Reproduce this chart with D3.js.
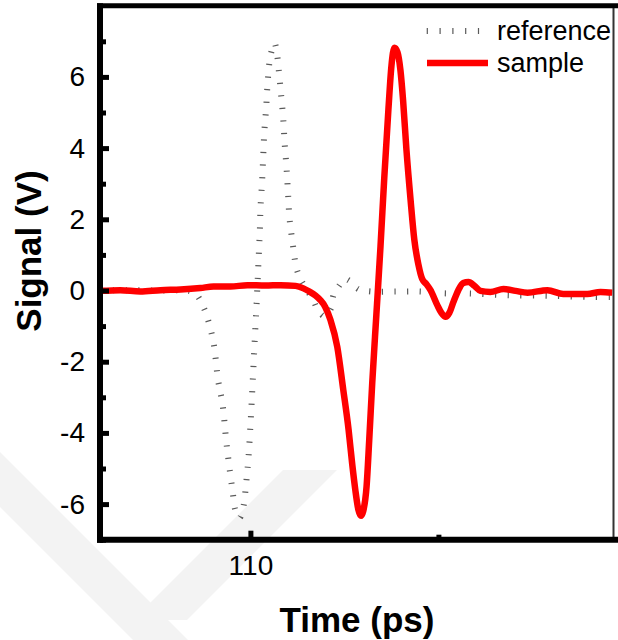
<!DOCTYPE html>
<html>
<head>
<meta charset="utf-8">
<script src="https://cdn.jsdelivr.net/npm/d3@7"></script>
<style>
  html, body { margin: 0; padding: 0; background: #fff; }
  svg { display: block; }
  text { font-family: "Liberation Sans", Arial, sans-serif; }
</style>
</head>
<body>
<svg id="chart" width="618" height="640"></svg>
<script>
// ---------- data ----------
const refTime = [106.01, 106.81, 107.61, 108.27, 108.40, 108.54, 108.74, 108.86, 109.02, 109.14,
  109.26, 109.36, 109.44, 109.53, 109.60, 109.71, 109.81, 109.89, 109.95, 110.01,
  110.06, 110.11, 110.16, 110.19, 110.22, 110.25, 110.27, 110.31, 110.34, 110.37,
  110.42, 110.46, 110.53, 110.64, 110.71, 110.75, 110.81, 110.87, 110.91, 110.96,
  111.00, 111.04, 111.12, 111.22, 111.32, 111.49, 111.68, 111.81, 111.97, 112.15,
  112.21, 112.37, 112.50, 112.61, 112.87, 113.22, 113.88, 114.52, 115.16, 115.80,
  116.81, 117.98, 119.10, 119.63];
const refSignal = [0.00, 0.01, 0.00, 0.00, -0.02, -0.08, -0.44, -0.78, -1.47, -2.51,
  -3.20, -4.26, -4.95, -5.67, -6.17, -6.39, -6.09, -5.38, -4.67, -3.62,
  -2.58, -1.51, -0.47, 0.22, 0.93, 1.64, 2.34, 3.04, 3.75, 4.45,
  5.15, 5.86, 6.57, 6.95, 6.62, 6.24, 5.57, 4.87, 4.15, 3.46,
  2.75, 2.04, 1.36, 0.65, 0.35, 0.04, -0.29, -0.58, -0.72, -0.49,
  -0.13, 0.15, 0.32, 0.29, 0.04, -0.03, -0.03, -0.03, -0.08, -0.08,
  -0.13, -0.15, -0.18, -0.18];

const sampleTime = [106.01, 106.54, 107.07, 107.61, 108.14, 108.67, 109.02, 109.47, 109.92, 110.40,
  110.80, 111.20, 111.41, 111.57, 111.73, 111.86, 111.99, 112.13, 112.31, 112.47,
  112.61, 112.71, 112.79, 112.87, 112.94, 113.00, 113.09, 113.16, 113.24, 113.35,
  113.46, 113.56, 113.67, 113.75, 113.83, 113.91, 113.99, 114.06, 114.15, 114.26,
  114.36, 114.47, 114.57, 114.68, 114.79, 114.97, 115.08, 115.19, 115.29, 115.40,
  115.53, 115.66, 115.80, 115.96, 116.12, 116.38, 116.73, 117.05, 117.37, 117.90,
  118.32, 118.64, 118.96, 119.31, 119.63];
const sampleSignal = [-0.01, 0.01, -0.03, 0.01, 0.03, 0.07, 0.11, 0.11, 0.15, 0.14,
  0.15, 0.13, 0.06, -0.03, -0.14, -0.27, -0.46, -0.83, -1.58, -2.79,
  -3.90, -4.90, -5.60, -6.15, -6.33, -6.20, -5.50, -4.20, -2.60, -0.68,
  1.24, 3.16, 5.08, 6.30, 6.82, 6.70, 6.19, 5.35, 3.95, 2.54,
  1.42, 0.72, 0.32, 0.18, 0.01, -0.41, -0.63, -0.74, -0.63, -0.32,
  0.01, 0.21, 0.24, 0.13, -0.01, -0.04, 0.04, -0.01, -0.06, 0.01,
  -0.10, -0.10, -0.10, -0.04, -0.06];

const xMajorTicks = [110];
const xMinorTicks = [115];
const yMajorTicks = [-6, -4, -2, 0, 2, 4, 6];
const yMinorTicks = [-7, -5, -3, -1, 1, 3, 5, 7];
const seriesNames = ["reference", "sample"];
const xTitle = "Time (ps)";
const yTitle = "Signal (V)";

// ---------- layout ----------
const svg = d3.select("#chart");
const L = 100, R = 612.5, T = 5.7, B = 539.7;
const x = d3.scaleLinear().domain([106, 119.63]).range([L, R]);
const y = d3.scaleLinear().domain([-7, 8]).range([B, T]);

// faint watermark bands
const wm = svg.append("g").attr("fill", "#f3f3f3");
wm.append("path").attr("d", "M283,470 L337,470 L187,620 L133,620 Z");
wm.append("path").attr("d", "M0,452 L0,507 L133,640 L188,640 Z");

// clip
svg.append("clipPath").attr("id", "clip").append("rect")
  .attr("x", L).attr("y", T).attr("width", R - L).attr("height", B - T);

const refLine = d3.line()
  .x(d => x(d[0])).y(d => y(d[1]))
  .curve(d3.curveCatmullRom.alpha(0.5));
const sampleLine = d3.line()
  .x(d => x(d[0])).y(d => y(d[1]))
  .curve(d3.curveMonotoneX);

const refData = refTime.map((t, i) => [t, refSignal[i]]);
const sampleData = sampleTime.map((t, i) => [t, sampleSignal[i]]);

const plot = svg.append("g").attr("clip-path", "url(#clip)");
plot.append("path").datum(refData)
  .attr("d", refLine).attr("fill", "none")
  .attr("stroke", "#5a5a5a").attr("stroke-width", 6)
  .attr("stroke-dasharray", "1.2 11.4");
plot.append("path").datum(sampleData)
  .attr("d", sampleLine).attr("fill", "none")
  .attr("stroke", "#ff0000").attr("stroke-width", 6.5)
  .attr("stroke-linejoin", "round");

// ---------- axes ----------
const fontTick = 28;
const fmt = d => String(d);
const yAxis = svg.append("g").attr("transform", `translate(${L},0)`)
  .call(d3.axisLeft(y).tickValues(yMajorTicks).tickFormat(fmt).tickSizeInner(-9).tickSizeOuter(0).tickPadding(15));
const yMinor = svg.append("g").attr("transform", `translate(${L},0)`)
  .call(d3.axisLeft(y).tickValues(yMinorTicks).tickSizeInner(-6).tickSizeOuter(0).tickFormat(""));
const xAxis = svg.append("g").attr("transform", `translate(0,${B})`)
  .call(d3.axisBottom(x).tickValues(xMajorTicks).tickFormat(fmt).tickSizeInner(-9).tickSizeOuter(0).tickPadding(15));
const xMinor = svg.append("g").attr("transform", `translate(0,${B})`)
  .call(d3.axisBottom(x).tickValues(xMinorTicks).tickSizeInner(-5).tickSizeOuter(0).tickFormat(""));

[yAxis, yMinor, xAxis, xMinor].forEach(g => {
  g.select(".domain").remove();
  g.selectAll(".tick line").attr("stroke", "#000").attr("stroke-width", 5);
  g.selectAll(".tick text").attr("font-size", fontTick).attr("fill", "#000")
    .attr("font-family", '"Liberation Sans", Arial, sans-serif');
});

// frame
const frame = svg.append("g").attr("stroke", "#000").attr("fill", "none");
frame.append("line").attr("x1", 613.5).attr("x2", 613.5).attr("y1", T).attr("y2", B)
  .attr("stroke", "#333").attr("stroke-width", 2);
frame.append("line").attr("x1", L - 3).attr("x2", 618).attr("y1", T).attr("y2", T).attr("stroke-width", 5);
frame.append("line").attr("x1", L - 3).attr("x2", 618).attr("y1", B).attr("y2", B).attr("stroke-width", 6);
frame.append("line").attr("x1", L).attr("x2", L).attr("y1", T - 2.5).attr("y2", B + 3).attr("stroke-width", 6);

// titles
svg.append("text").attr("x", 357).attr("y", 632).attr("text-anchor", "middle")
  .attr("font-size", 35).attr("font-weight", "bold").text(xTitle);
svg.append("text").attr("transform", "translate(41,251) rotate(-90)").attr("text-anchor", "middle")
  .attr("font-size", 35).attr("font-weight", "bold").text(yTitle);

// legend
const lg = svg.append("g");
lg.append("line").attr("x1", 426.7).attr("x2", 481).attr("y1", 31).attr("y2", 31)
  .attr("stroke", "#5a5a5a").attr("stroke-width", 6).attr("stroke-dasharray", "1.2 11.6");
lg.append("line").attr("x1", 427).attr("x2", 488).attr("y1", 63).attr("y2", 63)
  .attr("stroke", "#ff0000").attr("stroke-width", 6.5);
lg.append("text").attr("x", 497).attr("y", 40).attr("font-size", 27).text(seriesNames[0]);
lg.append("text").attr("x", 497).attr("y", 72).attr("font-size", 27).text(seriesNames[1]);
</script>
</body>
</html>
